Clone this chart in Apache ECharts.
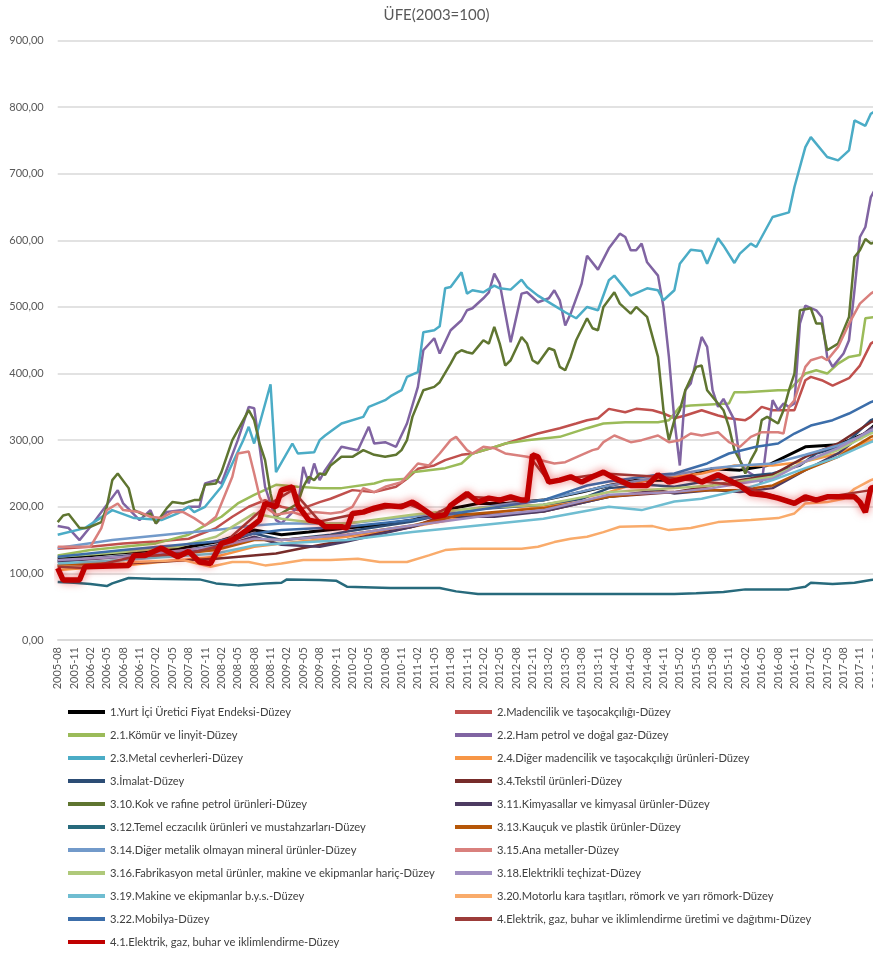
<!DOCTYPE html>
<html>
<head>
<meta charset="utf-8">
<script src="https://cdn.jsdelivr.net/npm/echarts@6/dist/echarts.min.js"></script>
<style>
  html, body { margin: 0; padding: 0; background: #fff; }
  #chart { width: 873px; height: 956px; }
</style>
</head>
<body>
<div id="chart"></div>
<script>
// aylar: 2005-08 .. 2018-02 (kategori ekseni)
const months = []
for (let i = 0; i <= 150; i++) {
  const y = 2005 + Math.floor((i + 7) / 12)
  const m = (i + 7) % 12 + 1
  months.push(y + '-' + String(m).padStart(2, '0'))
}

const yTicks = [0, 100, 200, 300, 400, 500, 600, 700, 800, 900]

// her seri: [ay sırası (2005-08 = 0), değer]
const ufe = [[0,122],[10,130],[22,137],[29,147],[36,165],[41,158],[46,162],[53,168],[58,172],[65,180],[72,197],[77,205],[82,205],[89,210],[96,222],[101,232],[106,240],[113,240],[120,257],[125,255],[130,262],[137,290],[143,293],[148,310],[150,325]]
const madencilik = [[0,137],[6,140],[12,145],[18,148],[24,152],[29,168],[32,185],[35,200],[38,210],[41,200],[44,195],[48,207],[50,212],[54,225],[58,222],[62,230],[64,242],[66,257],[69,262],[71,270],[74,278],[76,280],[79,287],[81,292],[84,300],[88,310],[92,318],[95,325],[97,330],[99,333],[101,347],[104,342],[106,347],[109,345],[111,340],[113,333],[115,337],[118,345],[121,337],[123,333],[126,330],[127,335],[129,350],[131,345],[135,345],[137,390],[138,395],[140,390],[142,382],[145,393],[147,412],[149,445],[150,450]]
const komur = [[0,127],[6,135],[12,140],[18,145],[24,158],[27,172],[30,185],[33,205],[36,218],[40,233],[44,230],[48,228],[52,228],[58,235],[60,240],[64,242],[65,252],[68,255],[71,258],[74,265],[76,280],[79,287],[82,295],[86,300],[92,305],[97,318],[100,325],[104,327],[110,327],[112,330],[114,350],[116,352],[123,355],[124,372],[126,372],[132,375],[134,375],[137,400],[139,405],[141,400],[143,415],[145,425],[147,428],[148,483],[150,485]]
const hamPetrol = [[0,171],[2,168],[4,150],[6,170],[11,225],[12,205],[15,180],[17,195],[18,175],[20,192],[23,195],[24,200],[26,200],[27,235],[29,240],[30,235],[33,300],[35,350],[36,348],[37,290],[38,230],[40,180],[41,175],[44,200],[45,260],[46,235],[47,265],[48,240],[49,255],[52,290],[55,285],[57,320],[58,295],[60,297],[62,290],[64,325],[66,380],[67,435],[69,453],[70,430],[72,465],[74,480],[75,495],[76,498],[78,513],[79,522],[80,550],[81,535],[83,447],[85,520],[86,522],[88,507],[90,513],[91,525],[92,510],[93,472],[94,490],[96,535],[97,577],[99,556],[101,588],[103,610],[104,605],[105,585],[106,585],[107,595],[108,567],[110,547],[111,500],[112,425],[113,330],[114,262],[115,375],[116,385],[118,455],[119,440],[120,375],[121,350],[122,362],[124,330],[125,270],[126,255],[127,250],[128,245],[129,235],[130,300],[131,360],[132,345],[133,355],[134,350],[135,355],[136,475],[137,502],[139,495],[140,485],[141,425],[142,410],[144,430],[145,450],[146,525],[147,605],[148,620],[149,665],[150,680]]
const metal = [[0,158],[5,168],[10,195],[14,183],[19,180],[22,190],[24,200],[25,192],[27,200],[30,230],[32,265],[34,300],[35,320],[36,295],[39,384],[40,252],[43,295],[44,280],[47,282],[48,300],[49,307],[52,325],[56,335],[57,350],[60,360],[61,366],[63,375],[64,395],[66,402],[67,462],[69,465],[70,471],[71,528],[72,530],[74,552],[75,520],[76,525],[78,522],[80,532],[81,528],[83,526],[85,541],[86,530],[88,517],[91,502],[93,492],[95,483],[97,500],[99,495],[101,540],[102,547],[105,517],[108,528],[110,525],[111,510],[113,525],[114,565],[116,586],[118,584],[119,565],[121,603],[122,592],[124,566],[125,580],[127,595],[128,590],[131,635],[134,642],[135,680],[137,740],[138,755],[141,725],[143,720],[145,735],[146,780],[148,772],[149,790],[150,795]]
const digerMaden = [[0,105],[12,112],[29,125],[36,140],[41,145],[53,155],[65,170],[77,188],[89,200],[101,222],[108,240],[113,245],[118,250],[124,262],[131,262],[137,268],[143,280],[149,300],[150,302]]
const imalat = [[0,118],[10,125],[22,133],[29,142],[36,160],[41,150],[50,158],[53,163],[65,178],[74,195],[80,198],[89,203],[96,212],[101,228],[108,233],[113,230],[120,240],[125,245],[131,250],[136,262],[139,280],[144,292],[149,330],[150,333]]
const tekstil = [[0,112],[12,115],[29,122],[40,130],[45,138],[53,150],[65,170],[72,190],[80,188],[89,193],[101,215],[113,222],[120,232],[125,240],[131,248],[137,275],[143,295],[149,327],[150,330]]
const kok = [[0,177],[1,187],[2,189],[4,168],[5,168],[6,170],[8,177],[9,200],[10,240],[11,250],[13,228],[14,195],[16,187],[17,190],[18,175],[20,198],[21,207],[23,205],[25,210],[26,210],[27,233],[29,235],[30,252],[32,300],[35,345],[36,330],[37,295],[38,270],[39,220],[40,185],[41,190],[44,205],[45,230],[46,245],[47,240],[48,250],[49,248],[50,262],[52,275],[54,275],[56,285],[58,278],[60,275],[62,278],[63,285],[64,300],[65,335],[67,375],[69,380],[70,387],[72,415],[73,430],[74,435],[75,432],[76,430],[77,440],[78,450],[79,445],[80,470],[81,445],[82,412],[83,420],[85,455],[86,445],[87,420],[88,415],[90,438],[91,435],[92,410],[93,405],[94,425],[95,450],[97,483],[98,468],[99,465],[100,500],[102,522],[103,505],[105,490],[106,500],[108,485],[110,425],[111,345],[112,300],[113,330],[114,345],[115,375],[117,410],[118,412],[119,375],[121,355],[122,345],[123,320],[124,285],[125,270],[126,250],[127,270],[128,285],[129,330],[130,335],[132,325],[133,345],[134,375],[135,400],[136,495],[138,498],[139,475],[140,475],[141,435],[143,445],[144,465],[145,485],[146,575],[147,585],[148,602],[149,595],[150,598]]
const kimya = [[0,118],[12,125],[29,138],[36,155],[41,143],[48,140],[53,148],[65,170],[72,185],[80,185],[89,193],[101,215],[110,225],[113,220],[120,225],[125,222],[131,228],[137,255],[143,280],[149,318],[150,320]]
const eczacilik = [[0,87],[3,86],[6,84],[9,81],[10,85],[13,93],[17,92],[26,91],[29,85],[33,82],[38,85],[41,86],[42,91],[48,90],[51,89],[53,80],[61,78],[70,78],[73,73],[77,69],[113,69],[117,70],[122,72],[126,76],[134,76],[137,80],[138,86],[142,84],[146,86],[149,90],[150,91]]
const kaucuk = [[0,112],[12,120],[29,135],[36,150],[41,150],[53,158],[65,172],[74,188],[89,198],[101,215],[110,222],[113,222],[120,225],[125,225],[131,232],[137,255],[143,275],[149,305],[150,307]]
const metalikOlmayan = [[0,138],[10,150],[22,160],[29,165],[36,172],[41,175],[53,175],[65,185],[77,198],[83,205],[89,210],[101,232],[113,248],[120,258],[125,262],[131,265],[137,278],[143,292],[149,312],[150,315]]
const anaMetal = [[0,140],[2,140],[6,140],[8,168],[9,195],[11,205],[12,195],[15,192],[17,185],[19,183],[21,192],[23,192],[25,183],[27,172],[29,185],[30,205],[32,245],[33,280],[35,283],[36,250],[37,215],[38,200],[40,188],[43,192],[45,187],[47,192],[50,190],[52,192],[54,200],[56,228],[58,222],[60,230],[63,237],[66,265],[68,262],[70,280],[72,300],[73,305],[75,285],[76,280],[78,290],[80,288],[82,280],[86,275],[91,265],[93,267],[96,278],[98,285],[99,287],[100,297],[102,307],[105,297],[107,300],[110,307],[112,297],[114,300],[116,310],[118,307],[121,312],[123,297],[125,290],[127,305],[129,312],[132,312],[133,310],[134,350],[135,360],[137,410],[138,420],[140,425],[141,420],[143,440],[145,475],[147,505],[149,520],[150,525]]
const fabrikasyon = [[0,125],[12,132],[22,140],[29,155],[33,175],[36,190],[41,182],[48,175],[53,175],[65,188],[77,198],[89,203],[101,222],[113,228],[120,232],[125,238],[131,245],[137,268],[143,285],[149,310],[150,312]]
const elektrikli = [[0,120],[12,125],[29,140],[36,152],[41,150],[53,158],[65,172],[77,185],[89,195],[101,218],[113,222],[120,228],[125,235],[131,242],[137,268],[143,288],[149,315],[150,318]]
const makine = [[0,115],[12,120],[29,130],[36,142],[41,145],[53,150],[65,162],[77,172],[89,182],[101,200],[107,195],[113,208],[118,212],[125,225],[131,240],[137,258],[143,275],[149,297],[150,300]]
const motorlu = [[0,110],[8,110],[14,117],[23,120],[28,110],[32,117],[35,117],[38,112],[41,115],[45,120],[50,120],[55,122],[59,117],[64,117],[68,127],[71,135],[74,137],[77,137],[81,137],[85,137],[88,140],[91,147],[94,152],[97,155],[100,162],[103,170],[109,171],[112,165],[116,168],[121,177],[127,180],[132,183],[135,190],[137,205],[141,207],[144,212],[146,227],[149,240],[150,243]]
const mobilya = [[0,125],[12,135],[29,148],[36,160],[41,165],[53,170],[65,180],[77,195],[89,210],[97,232],[101,238],[110,248],[113,250],[119,265],[123,280],[128,290],[132,295],[135,310],[138,322],[142,330],[145,340],[149,357],[150,360]]
const elektrikUretim = [[0,110],[5,108],[14,125],[24,130],[30,142],[38,200],[43,225],[48,178],[54,188],[64,205],[69,188],[75,215],[86,210],[87,270],[90,238],[100,250],[110,245],[125,232],[135,207],[149,225],[150,228]]
const elektrikGaz = [[0,108],[1,90],[4,90],[5,110],[13,112],[14,127],[16,127],[19,138],[22,125],[24,133],[26,117],[28,115],[30,145],[32,150],[33,155],[35,167],[37,180],[38,205],[40,200],[41,225],[43,230],[44,202],[46,180],[48,177],[49,170],[52,170],[53,168],[54,190],[56,192],[58,198],[60,202],[63,200],[65,207],[66,202],[69,185],[71,188],[72,202],[75,220],[77,207],[79,213],[81,210],[83,215],[85,210],[86,210],[87,278],[88,275],[90,237],[92,240],[94,245],[96,237],[98,245],[100,252],[102,243],[105,232],[108,232],[110,248],[112,237],[116,245],[118,237],[121,248],[123,240],[125,232],[127,220],[130,217],[132,213],[135,205],[137,215],[139,210],[141,215],[144,215],[146,215],[147,207],[148,192],[149,228],[150,230]]

const seriesList = [
  { name: '1.Yurt İçi Üretici Fiyat Endeksi-Düzey', data: ufe, color: '#000000', width: 3 },
  { name: '2.Madencilik ve taşocakçılığı-Düzey', data: madencilik, color: '#c0504d' },
  { name: '2.1.Kömür ve linyit-Düzey', data: komur, color: '#9bbb59' },
  { name: '2.2.Ham petrol ve doğal gaz-Düzey', data: hamPetrol, color: '#8064a2' },
  { name: '2.3.Metal cevherleri-Düzey', data: metal, color: '#4bacc6' },
  { name: '2.4.Diğer madencilik ve taşocakçılığı ürünleri-Düzey', data: digerMaden, color: '#f79646' },
  { name: '3.İmalat-Düzey', data: imalat, color: '#2c4d75' },
  { name: '3.4.Tekstil ürünleri-Düzey', data: tekstil, color: '#772c2a' },
  { name: '3.10.Kok ve rafine petrol ürünleri-Düzey', data: kok, color: '#5f7530' },
  { name: '3.11.Kimyasallar ve kimyasal ürünler-Düzey', data: kimya, color: '#4d3b62' },
  { name: '3.12.Temel eczacılık ürünleri ve mustahzarları-Düzey', data: eczacilik, color: '#276a7c' },
  { name: '3.13.Kauçuk ve plastik ürünler-Düzey', data: kaucuk, color: '#b65708' },
  { name: '3.14.Diğer metalik olmayan mineral ürünler-Düzey', data: metalikOlmayan, color: '#729aca' },
  { name: '3.15.Ana metaller-Düzey', data: anaMetal, color: '#d9807d' },
  { name: '3.16.Fabrikasyon metal ürünler, makine ve ekipmanlar hariç-Düzey', data: fabrikasyon, color: '#afc97a' },
  { name: '3.18.Elektrikli teçhizat-Düzey', data: elektrikli, color: '#a08fc1' },
  { name: '3.19.Makine ve ekipmanlar b.y.s.-Düzey', data: makine, color: '#6fbdd1' },
  { name: '3.20.Motorlu kara taşıtları, römork ve yarı römork-Düzey', data: motorlu, color: '#f9ab6b' },
  { name: '3.22.Mobilya-Düzey', data: mobilya, color: '#3c6eaa' },
  { name: '4.Elektrik, gaz, buhar ve iklimlendirme üretimi ve dağıtımı-Düzey', data: elektrikUretim, color: '#9c3c39' },
  { name: '4.1.Elektrik, gaz, buhar ve iklimlendirme-Düzey', data: elektrikGaz, color: '#c00000', width: 5.5, glow: true }
]

const names = seriesList.map(s => s.name)
const legendText = { fontSize: 11.2, color: '#404040', fontFamily: 'Lato', lineHeight: 14 }
const legendBase = {
  orient: 'vertical', top: 700, height: 300,
  icon: 'rect', itemWidth: 37, itemHeight: 4, itemGap: 9,
  textStyle: legendText
}

const chart = echarts.init(document.getElementById('chart'))
chart.setOption({
  animation: false,
  backgroundColor: '#fff',
  title: {
    text: 'ÜFE(2003=100)',
    left: 'center',
    top: 3,
    textStyle: { fontSize: 15, fontWeight: 'normal', color: '#595959', fontFamily: 'Lato' }
  },
  grid: { left: 57.7, top: 40.5, width: 818.6, height: 599.5, outerBoundsMode: 'none', containLabel: false },
  xAxis: {
    type: 'category',
    data: months,
    boundaryGap: false,
    axisLine: { lineStyle: { color: '#d9d9d9', width: 1.5 } },
    axisTick: { show: false },
    axisLabel: { interval: 2, rotate: 90, fontSize: 11, color: '#595959', fontFamily: 'Lato', margin: 7 }
  },
  yAxis: {
    type: 'value',
    min: yTicks[0],
    max: yTicks[yTicks.length - 1],
    interval: 100,
    axisLine: { show: false },
    axisTick: { show: false },
    splitLine: { lineStyle: { color: '#d9d9d9', width: 1.5 } },
    axisLabel: {
      fontSize: 11, color: '#595959', fontFamily: 'Lato', margin: 14,
      formatter: v => v.toFixed(2).replace('.', ',')
    }
  },
  legend: [
    Object.assign({ data: names.filter((n, i) => i % 2 === 0), left: 63 }, legendBase),
    Object.assign({ data: names.filter((n, i) => i % 2 === 1), left: 450 }, legendBase)
  ],
  series: seriesList.map(s => ({
    name: s.name,
    type: 'line',
    data: s.data,
    symbol: 'none',
    color: s.color,
    lineStyle: s.glow
      ? { width: s.width, color: s.color, shadowColor: 'rgba(220,0,0,0.55)', shadowBlur: 8 }
      : { width: s.width || 2.5, color: s.color }
  }))
})
</script>
</body>
</html>
